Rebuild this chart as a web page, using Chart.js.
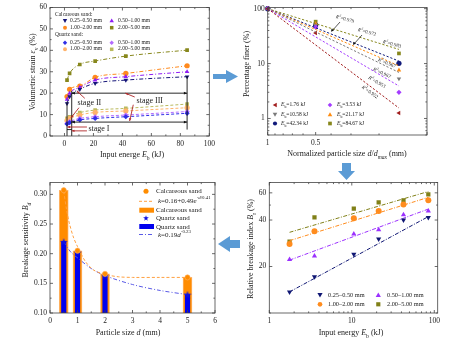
<!DOCTYPE html>
<html>
<head>
<meta charset="utf-8">
<script src="https://cdn.jsdelivr.net/npm/chart.js@4.4.1/dist/chart.umd.min.js"></script>
<style>
  body { margin: 0; background: #fff; }
  #page { position: relative; width: 455px; height: 352px; overflow: hidden; font-family: "Liberation Serif", serif; color: #222; }
  canvas { position: absolute; }
  .txt { position: absolute; white-space: nowrap; line-height: 1; transform: translateY(-50%); }
  .ttl { position: absolute; white-space: nowrap; line-height: 1; font-size: 8px; transform: translate(-50%, -50%); }
  .ttl.v { transform: translate(-50%, -50%) rotate(-90deg); }
  sub, sup { font-size: 70%; line-height: 0; }
  #ov { position: absolute; left: 0; top: 0; pointer-events: none; }
</style>
</head>
<body>
<div id="page">
  <canvas id="c1" width="225" height="175" style="left:0;top:0"></canvas>
  <canvas id="c2" width="230" height="175" style="left:225px;top:0"></canvas>
  <canvas id="c3" width="225" height="177" style="left:0;top:175px"></canvas>
  <canvas id="c4" width="230" height="177" style="left:225px;top:175px"></canvas>
  <svg id="ov" width="455" height="352"></svg>

  <div class="ttl v" style="left:33px;top:72px">Volumetric strain <i>ε</i><sub>v</sub> (%)</div>
  <div class="ttl" style="left:132px;top:155px">Input energe <i>E</i><sub>b</sub> (kJ)</div>
  <div class="ttl v" style="left:247px;top:64px">Percentage finer (%)</div>
  <div class="ttl" style="left:347px;top:154px">Normalized particle size <i>d</i>/<i>d</i><sub><i>max</i></sub> (mm)</div>
  <div class="ttl v" style="left:26px;top:240px">Breakage sensitivity <i>B</i><sub><i>d</i></sub></div>
  <div class="ttl" style="left:128px;top:333px">Particle size <i>d</i> (mm)</div>
  <div class="ttl v" style="left:251px;top:249px">Relative breakage index <i>B</i><sub>r</sub> (%)</div>
  <div class="ttl" style="left:351px;top:333px">Input energy <i>E</i><sub>b</sub> (kJ)</div>
</div>

<script>
// ---------- data ----------
const energy = [1.76, 3.53, 10.58, 21.17, 42.34, 84.67];   // kJ
const sizeNames = ['0.25–0.50 mm', '0.50–1.00 mm', '1.00–2.00 mm', '2.00–5.00 mm'];

// volumetric strain (%) - calcareous sand
const strainCalc1 = [15.2, 18.4, 21.8, 24.6, 26.1, 27.7];
const strainCalc2 = [17.1, 19.9, 22.7, 26.1, 27.7, 30.0];
const strainCalc3 = [18.4, 21.8, 23.3, 27.4, 29.2, 32.8];
const strainCalc4 = [26.1, 29.2, 33.4, 35.0, 37.3, 40.1];
// volumetric strain (%) - quartz sand
const strainQtz1 = [5.6, 6.2, 7.5, 8.2, 9.0, 10.6];
const strainQtz2 = [5.9, 6.7, 8.2, 9.0, 9.8, 11.4];
const strainQtz3 = [7.2, 8.1, 9.8, 11.0, 11.7, 13.2];
const strainQtz4 = [8.2, 9.0, 10.9, 12.1, 12.9, 14.9];

// percentage finer vs normalized size
const normSize = [1, 0.5, 0.15];
const ebLabels = ['1.76', '3.53', '10.58', '21.17', '42.34', '84.67'];
const finer176 = [100, 36, 1.26];
const finer353 = [100, 46, 3.0];
const finer1058 = [100, 49, 5.3];
const finer2117 = [100, 53, 7.6];
const finer4234 = [100, 50, 10.1];
const finer8467 = [100, 58, 15.3];
const finerFitEnd = [1.55, 3.9, 6.9, 9.1, 11.1, 18.1];   // fitted lines at d/dmax = 0.15

// breakage sensitivity
const particleSize = [0.5, 1, 2, 5];
const bdCalc = [0.307, 0.205, 0.166, 0.160];
const bdQtz = [0.220, 0.202, 0.163, 0.131];
const fitCalcD = [0.5, 0.6, 0.7, 0.85, 1, 1.3, 1.6, 2, 2.5, 3, 4, 5];
const fitCalcK = [0.305, 0.275, 0.252, 0.228, 0.212, 0.186, 0.172, 0.165, 0.161, 0.160, 0.160, 0.160];
const fitQtzD = [0.5, 0.75, 1, 1.5, 2, 3, 4, 5];
const fitQtzK = [0.220, 0.203, 0.193, 0.175, 0.163, 0.148, 0.138, 0.131];

// relative breakage index (%)
const brSize1 = [13.7, 17.2, 24.0, 30.2, 40.0, 41.6];
const brSize2 = [22.2, 23.4, 32.5, 34.6, 43.3, 45.7];
const brSize3 = [28.0, 33.8, 41.0, 45.7, 50.4, 53.7];
const brSize4 = [29.0, 41.6, 47.5, 52.1, 53.7, 58.6];
const brFitStart = [13.7, 22.0, 29.4, 33.3];
const brFitEnd = [42.1, 47.1, 56.1, 61.2];

// ---------- helpers ----------
Chart.defaults.font.family = '"Liberation Serif", serif';
Chart.defaults.font.size = 7.5;
Chart.defaults.color = '#222';
Chart.defaults.animation = false;
Chart.defaults.plugins.legend.display = false;
Chart.defaults.plugins.tooltip.enabled = false;

const xy = (xs, ys) => xs.map((x, i) => ({ x: x, y: ys[i] }));
const DASHDOT = [4, 2, 1, 2];
const DASH = [3, 2];

function minorValues(s) {
  const out = [];
  const majors = s.ticks.map(t => t.value);
  if (s.type === 'logarithmic') {
    for (let d = Math.floor(Math.log10(s.min)); d <= Math.ceil(Math.log10(s.max)); d++) {
      for (let k = 1; k < 10; k++) {
        const v = k * Math.pow(10, d);
        if (v >= s.min && v <= s.max && !majors.some(m => Math.abs(m - v) < 1e-9)) out.push(v);
      }
    }
  } else if (majors.length > 1) {
    const step = majors[1] - majors[0];
    for (let v = majors[0] - step / 2; v <= s.max; v += step) if (v >= s.min) out.push(v);
  }
  return out;
}

const framePlugin = {
  id: 'frame',
  afterDraw(chart) {
    const { ctx, chartArea: a } = chart;
    const sx = chart.scales.x, sy = chart.scales.y;
    ctx.save();
    ctx.strokeStyle = '#444';
    ctx.lineWidth = 0.8;
    ctx.strokeRect(a.left, a.top, a.right - a.left, a.bottom - a.top);
    ctx.beginPath();
    const xt = (v, len) => {
      const p = sx.getPixelForValue(v);
      ctx.moveTo(p, a.bottom); ctx.lineTo(p, a.bottom - len);
      ctx.moveTo(p, a.top); ctx.lineTo(p, a.top + len);
    };
    const yt = (v, len) => {
      const p = sy.getPixelForValue(v);
      ctx.moveTo(a.left, p); ctx.lineTo(a.left + len, p);
      ctx.moveTo(a.right, p); ctx.lineTo(a.right - len, p);
    };
    sx.ticks.forEach(t => xt(t.value, 3));
    sy.ticks.forEach(t => yt(t.value, 3));
    minorValues(sx).forEach(v => xt(v, 1.6));
    minorValues(sy).forEach(v => yt(v, 1.6));
    ctx.stroke();
    ctx.restore();
  }
};

function fixedTicks(values) {
  return s => { s.ticks = values.map(v => ({ value: v })); };
}

function axes(opts) {
  return {
    x: Object.assign({
      grid: { display: false, drawTicks: false }, border: { display: false },
      afterFit: s => { s.height = opts.xh; }
    }, opts.x),
    y: Object.assign({
      grid: { display: false, drawTicks: false }, border: { display: false },
      afterFit: s => { s.width = opts.yw; }
    }, opts.y)
  };
}
const tickX = fmt => ({ padding: 4, maxRotation: 0, autoSkip: false, callback: fmt || (v => String(v)) });
const tickY = fmt => ({ padding: 3, autoSkip: false, callback: fmt || (v => String(v)) });

function arrowHead(ctx, x1, y1, x2, y2, size) {
  const ang = Math.atan2(y2 - y1, x2 - x1);
  ctx.beginPath();
  ctx.moveTo(x2, y2);
  ctx.lineTo(x2 - size * Math.cos(ang - 0.4), y2 - size * Math.sin(ang - 0.4));
  ctx.lineTo(x2 - size * Math.cos(ang + 0.4), y2 - size * Math.sin(ang + 0.4));
  ctx.closePath();
  ctx.fill();
}

// ---------- chart 1 : volumetric strain ----------
const stageBlack = [ // [x1, y1, x2, y2, heads]  (data units)
  [1.76, 0, 1.76, 16, 0],
  [5, 0, 5, 21, 0],
  [84.67, 3, 84.67, 28, 0],
  [5, 20, 84.67, 20, 2],
  [5, 6.5, 84.67, 6.5, 2],
  [1.76, 3, 5, 3, 0]
];
const stageRed = [
  [15.5, 4.2, 2, 4.2],
  [15.5, 2.4, 5, 2.4],
  [14, 17.6, 8.5, 21],
  [10, 13.2, 4.5, 8.5],
  [48.5, 18.2, 42, 20],
  [47.5, 14.6, 45, 7]
];
const stageText = [['stage I', 16.5, 3.2], ['stage II', 9, 15.3], ['stage III', 49.8, 16.4]];

const stagePlugin = {
  id: 'stages',
  afterDatasetsDraw(chart) {
    const { ctx } = chart;
    const px = v => chart.scales.x.getPixelForValue(v);
    const py = v => chart.scales.y.getPixelForValue(v);
    ctx.save();
    ctx.lineWidth = 0.9;
    ctx.strokeStyle = '#111'; ctx.fillStyle = '#111';
    stageBlack.forEach(([x1, y1, x2, y2, h]) => {
      const a = [px(x1), py(y1)], b = [px(x2), py(y2)];
      ctx.beginPath(); ctx.moveTo(a[0], a[1]); ctx.lineTo(b[0], b[1]); ctx.stroke();
      if (h === 2) { arrowHead(ctx, a[0], a[1], b[0], b[1], 3.5); arrowHead(ctx, b[0], b[1], a[0], a[1], 3.5); }
    });
    ctx.strokeStyle = '#b0282a'; ctx.fillStyle = '#b0282a';
    stageRed.forEach(([x1, y1, x2, y2]) => {
      const a = [px(x1), py(y1)], b = [px(x2), py(y2)];
      ctx.beginPath(); ctx.moveTo(a[0], a[1]); ctx.lineTo(b[0], b[1]); ctx.stroke();
      arrowHead(ctx, a[0], a[1], b[0], b[1], 3);
    });
    ctx.fillStyle = '#222';
    ctx.font = '8px "Liberation Serif"';
    ctx.textBaseline = 'middle';
    stageText.forEach(([t, x, y]) => ctx.fillText(t, px(x), py(y)));
    ctx.restore();
  }
};

function strainSet(vals, color, style, rot, dash) {
  return {
    data: xy(energy, vals), borderColor: color, backgroundColor: color,
    borderWidth: 1, borderDash: dash, cubicInterpolationMode: 'monotone',
    pointStyle: style, pointRotation: rot, pointRadius: 2.6, pointBorderWidth: 0
  };
}

new Chart(document.getElementById('c1'), {
  type: 'line',
  data: {
    datasets: [
      strainSet(strainCalc1, '#141478', 'triangle', 180, DASHDOT),
      strainSet(strainCalc2, '#8f1cf5', 'triangle', 0, DASHDOT),
      strainSet(strainCalc3, '#ff8a1e', 'circle', 0, DASHDOT),
      strainSet(strainCalc4, '#87871c', 'rect', 0, DASHDOT),
      strainSet(strainQtz1, '#2f2fe6', 'rectRot', 0, DASH),
      strainSet(strainQtz2, '#b46bff', 'rectRot', 0, DASH),
      strainSet(strainQtz3, '#ffb36b', 'circle', 0, DASH),
      strainSet(strainQtz4, '#baba5e', 'rect', 0, DASH)
    ]
  },
  options: {
    responsive: false,
    layout: { padding: { top: 7, right: 15.7, left: 0, bottom: 0 } },
    scales: axes({
      xh: 39, yw: 50,
      x: { type: 'linear', min: -10, max: 100, ticks: tickX(), afterBuildTicks: fixedTicks([0, 20, 40, 60, 80, 100]) },
      y: { type: 'linear', min: 0, max: 60, ticks: tickY(), afterBuildTicks: fixedTicks([0, 10, 20, 30, 40, 50, 60]) }
    })
  },
  plugins: [stagePlugin, framePlugin]
});

// ---------- chart 2 : percentage finer ----------
const finerSets = [finer176, finer353, finer1058, finer2117, finer4234, finer8467];
const finerColors = ['#a11d1d', '#a43cff', '#7a7a7a', '#ff8c10', '#111a7a', '#87871c'];
const finerStyles = [['triangle', -90], ['rectRot', 0], ['triangle', 180], ['triangle', 0], ['circle', 0], ['rect', 0]];

const finerDatasets = [];
finerSets.forEach((vals, i) => {
  finerDatasets.push({
    data: [{ x: normSize[0], y: vals[0] }, { x: normSize[2], y: finerFitEnd[i] }],
    borderColor: finerColors[i], borderWidth: 1, borderDash: [2.2, 1.8], pointRadius: 0
  });
});
finerSets.forEach((vals, i) => {
  finerDatasets.push({
    data: xy(normSize, vals), showLine: false, clip: false,
    backgroundColor: finerColors[i], borderColor: finerColors[i],
    pointStyle: finerStyles[i][0], pointRotation: finerStyles[i][1], pointRadius: 2.6, pointBorderWidth: 0
  });
});

new Chart(document.getElementById('c2'), {
  type: 'line',
  data: { datasets: finerDatasets },
  options: {
    responsive: false,
    layout: { padding: { top: 6, right: 28, left: 0, bottom: 0 } },
    scales: axes({
      xh: 40, yw: 42.7,
      x: { type: 'logarithmic', reverse: true, min: 0.1, max: 1,
           ticks: tickX(v => v === 1 ? '1' : v === 0.5 ? '0.5' : ''),
           afterBuildTicks: fixedTicks([1, 0.5, 0.1]) },
      y: { type: 'logarithmic', min: 0.5, max: 105, ticks: tickY(), afterBuildTicks: fixedTicks([1, 10, 100]) }
    })
  },
  plugins: [framePlugin]
});

// ---------- chart 3 : breakage sensitivity ----------
const starCanvas = document.createElement('canvas');
starCanvas.width = 8; starCanvas.height = 8;
(function () {
  const c = starCanvas.getContext('2d');
  c.fillStyle = '#1010e0';
  c.beginPath();
  for (let i = 0; i < 10; i++) {
    const r = i % 2 ? 1.6 : 4;
    const a = -Math.PI / 2 + i * Math.PI / 5;
    c.lineTo(4 + r * Math.cos(a), 4.3 + r * Math.sin(a));
  }
  c.closePath(); c.fill();
})();

new Chart(document.getElementById('c3'), {
  type: 'bar',
  data: {
    datasets: [
      { type: 'line', data: xy(particleSize, bdCalc), showLine: false, pointStyle: 'circle',
        pointRadius: 2.6, backgroundColor: '#ff8c00', borderColor: '#ffb366', pointBorderWidth: 0.6, order: 1 },
      { type: 'line', data: xy(particleSize, bdQtz), showLine: false, pointStyle: starCanvas, order: 1 },
      { type: 'line', data: xy(fitCalcD, fitCalcK), borderColor: '#ffa040', borderWidth: 1,
        borderDash: DASH, pointRadius: 0, tension: 0.3, order: 2 },
      { type: 'line', data: xy(fitQtzD, fitQtzK), borderColor: '#5a5ae6', borderWidth: 1,
        borderDash: DASHDOT, pointRadius: 0, tension: 0.3, order: 2 },
      { data: xy(particleSize, bdQtz), backgroundColor: '#0000ee', barThickness: 4.5, grouped: false, order: 4 },
      { data: xy(particleSize, bdCalc), backgroundColor: '#ff8c00', borderColor: '#ffb366',
        borderWidth: 1, barThickness: 9, grouped: false, order: 5 }
    ]
  },
  options: {
    responsive: false,
    layout: { padding: { top: 5.7, right: 10, left: 0, bottom: 0 } },
    scales: axes({
      xh: 39, yw: 50,
      x: { type: 'linear', min: 0, max: 6, offset: false, ticks: tickX(), afterBuildTicks: fixedTicks([0, 1, 2, 3, 4, 5, 6]) },
      y: { type: 'linear', min: 0.10, max: 0.32, ticks: tickY(v => v.toFixed(2)),
           afterBuildTicks: fixedTicks([0.10, 0.15, 0.20, 0.25, 0.30]) }
    })
  },
  plugins: [framePlugin]
});

// ---------- chart 4 : relative breakage index ----------
const brSets = [brSize1, brSize2, brSize3, brSize4];
const brColors = ['#0f1673', '#9b30ff', '#ff8c1e', '#808018'];
const brStyles = [['triangle', 180], ['triangle', 0], ['circle', 0], ['rect', 0]];
const brDatasets = [];
brSets.forEach((vals, i) => {
  brDatasets.push({
    data: [{ x: energy[0], y: brFitStart[i] }, { x: energy[5], y: brFitEnd[i] }],
    borderColor: brColors[i], borderWidth: 1, borderDash: [4, 1.5, 1, 1.5], pointRadius: 0
  });
  brDatasets.push({
    data: xy(energy, vals), showLine: false, backgroundColor: brColors[i],
    pointStyle: brStyles[i][0], pointRotation: brStyles[i][1], pointRadius: 3, pointBorderWidth: 0
  });
});

new Chart(document.getElementById('c4'), {
  type: 'line',
  data: { datasets: brDatasets },
  options: {
    responsive: false,
    layout: { padding: { top: 6.7, right: 17.3, left: 0, bottom: 0 } },
    scales: axes({
      xh: 39, yw: 44.3,
      x: { type: 'logarithmic', min: 1, max: 110, ticks: tickX(), afterBuildTicks: fixedTicks([1, 10, 100]) },
      y: { type: 'logarithmic', min: 10, max: 70, ticks: tickY(), afterBuildTicks: fixedTicks([20, 40, 60]) }
    })
  },
  plugins: [framePlugin]
});

// ---------- overlay: legends, labels, arrows ----------
const NS = 'http://www.w3.org/2000/svg';
const ov = document.getElementById('ov');
const page = document.getElementById('page');

function svgEl(tag, attrs) {
  const e = document.createElementNS(NS, tag);
  for (const k in attrs) e.setAttribute(k, attrs[k]);
  ov.appendChild(e);
  return e;
}
function marker(shape, color, x, y, r) {
  if (shape === 'circle') return svgEl('circle', { cx: x, cy: y, r: r * 0.9, fill: color });
  let d;
  if (shape === 'down') d = `M${x - r},${y - r * 0.75}L${x + r},${y - r * 0.75}L${x},${y + r}Z`;
  else if (shape === 'up') d = `M${x - r},${y + r * 0.75}L${x + r},${y + r * 0.75}L${x},${y - r}Z`;
  else if (shape === 'left') d = `M${x + r * 0.75},${y - r}L${x + r * 0.75},${y + r}L${x - r},${y}Z`;
  else if (shape === 'square') d = `M${x - r * 0.8},${y - r * 0.8}h${r * 1.6}v${r * 1.6}h${-r * 1.6}Z`;
  else if (shape === 'diamond') d = `M${x},${y - r}L${x + r},${y}L${x},${y + r}L${x - r},${y}Z`;
  else if (shape === 'star') {
    d = '';
    for (let i = 0; i < 10; i++) {
      const rr = i % 2 ? r * 0.4 : r;
      const a = -Math.PI / 2 + i * Math.PI / 5;
      d += (i ? 'L' : 'M') + (x + rr * Math.cos(a)) + ',' + (y + rr * Math.sin(a));
    }
    d += 'Z';
  }
  return svgEl('path', { d: d, fill: color });
}
function label(html, x, y, size, rot) {
  const d = document.createElement('div');
  d.className = 'txt';
  d.style.left = x + 'px';
  d.style.top = y + 'px';
  d.style.fontSize = size + 'px';
  if (rot) { d.style.transform = `translate(-50%, -50%) rotate(${rot}deg)`; }
  d.innerHTML = html;
  page.appendChild(d);
}

// top-left legend
label('Calcareous sand:', 55, 15, 5.5);
label('Quartz sand:', 55, 35, 5.5);
const tlLegend = [
  ['down', '#141478', 0, 20.7], ['up', '#8f1cf5', 1, 20.7],
  ['circle', '#ff8a1e', 2, 27.7], ['square', '#87871c', 3, 27.7],
  ['diamond', '#2f2fe6', 0, 42.7], ['diamond', '#b46bff', 1, 42.7],
  ['circle', '#ffb36b', 2, 49.3], ['square', '#baba5e', 3, 49.3]
];
tlLegend.forEach(([s, c, k, y]) => {
  const col = k % 2;
  marker(s, c, col ? 111.7 : 65, y, 2.2);
  label(sizeNames[k], col ? 118 : 70, y, 5.5);
});

// top-right legend
const trShapes = ['left', 'diamond', 'down', 'up', 'circle', 'square'];
ebLabels.forEach((eb, i) => {
  const col = i % 2, row = Math.floor(i / 2);
  const y = [105, 114.5, 123.5][row];
  marker(trShapes[i], finerColors[i], col ? 330 : 275, y, 2.3);
  label(`<i>E</i><sub>b</sub>=${eb} kJ`, col ? 337 : 281, y, 5.5);
});

// R² labels on the top-right panel
label('<i>R</i><sup>2</sup>=0.979', 345, 18.5, 5, 15);
label('<i>R</i><sup>2</sup>=0.972', 367, 31.5, 5, 15);
label('<i>R</i><sup>2</sup>=0.983', 392, 43.5, 5, 15);
label('<i>R</i><sup>2</sup>=0.967', 387, 63, 5, 22);
label('<i>R</i><sup>2</sup>=0.967', 382, 72.5, 5, 25);
label('<i>R</i><sup>2</sup>=0.953', 377, 81.5, 5, 30);
label('<i>R</i><sup>2</sup>=0.952', 370, 92, 5, 36);
svgEl('path', { d: 'M340,22L332,31', stroke: '#111', 'stroke-width': 0.7, fill: 'none' });
svgEl('path', { d: 'M331,31.8L331.6,28.6L334,30.4Z', fill: '#111' });
svgEl('path', { d: 'M362,35L354,44', stroke: '#111', 'stroke-width': 0.7, fill: 'none' });
svgEl('path', { d: 'M353,45L353.6,41.8L356,43.6Z', fill: '#111' });

// bottom-left legend
marker('circle', '#ff8c00', 146, 191.3, 2.8);
label('Calcareous sand', 156, 191.3, 7);
svgEl('line', { x1: 139, y1: 201.3, x2: 153, y2: 201.3, stroke: '#ffa040', 'stroke-width': 1, 'stroke-dasharray': '3 2' });
label('<i>k</i>=0.16+0.49<i>e</i><sup>-<i>d</i>/0.41</sup>', 158, 201.3, 7);
svgEl('rect', { x: 139.3, y: 207.7, width: 14.7, height: 5, fill: '#ff8c00' });
label('Calcareous sand', 156, 210.2, 7);
marker('star', '#1010e0', 146, 218.3, 3);
label('Quartz sand', 156, 218.3, 7);
svgEl('rect', { x: 139.3, y: 224, width: 14.7, height: 5, fill: '#0000ee' });
label('Quartz sand', 156, 226.5, 7);
svgEl('line', { x1: 139, y1: 234.5, x2: 153, y2: 234.5, stroke: '#5a5ae6', 'stroke-width': 1, 'stroke-dasharray': '4 2 1 2' });
label('<i>k</i>=0.19<i>d</i><sup>-0.23</sup>', 158, 234.5, 7);

// bottom-right legend
const brShapes = ['down', 'up', 'circle', 'square'];
sizeNames.forEach((n, i) => {
  const col = i % 2, row = Math.floor(i / 2);
  const y = row ? 304.3 : 295;
  marker(brShapes[i], brColors[i], col ? 378.3 : 320, y, 2.6);
  label(n, col ? 387 : 328, y, 6.3);
});

// block arrows between panels
const blue = '#5b9bd5';
svgEl('path', { d: 'M213,74L226,74L226,70L238,76.5L226,83L226,79L213,79Z', fill: blue });
svgEl('path', { d: 'M342,163L351,163L351,171L355,171L346.5,180L338,171L342,171Z', fill: blue });
svgEl('path', { d: 'M240,240L230,240L230,236L218,244L230,252L230,248L240,248Z', fill: blue });
</script>
</body>
</html>
